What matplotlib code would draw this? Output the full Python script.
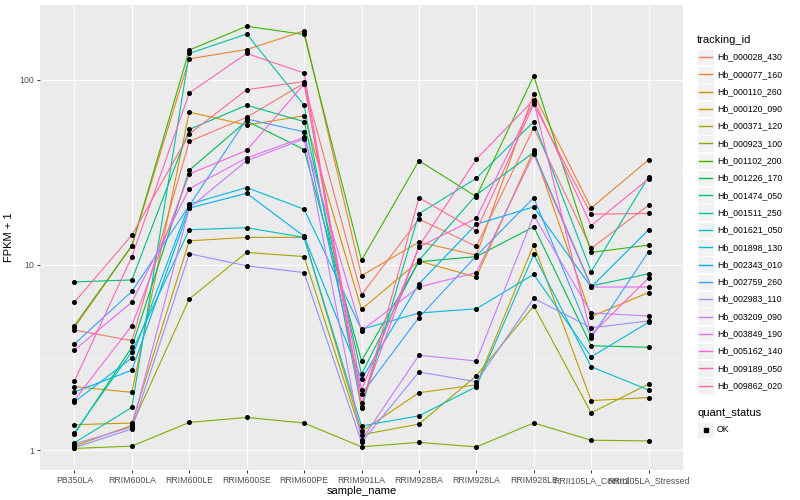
import matplotlib
matplotlib.use('Agg')
import numpy as np
import matplotlib.pyplot as plt
from matplotlib.patches import Rectangle
from matplotlib.lines import Line2D

plt.rcParams['font.family'] = ['Liberation Sans', 'DejaVu Sans']

samples = ['PB350LA', 'RRIM600LA', 'RRIM600LE', 'RRIM600SE', 'RRIM600PE',
           'RRIM901LA', 'RRIM928BA', 'RRIM928LA', 'RRIM928LE',
           'RRII105LA_Control', 'RRII105LA_Stressed']

tracking_ids = ['Hb_000028_430', 'Hb_000077_160', 'Hb_000110_260', 'Hb_000120_090',
                'Hb_000371_120', 'Hb_000923_100', 'Hb_001102_200', 'Hb_001226_170',
                'Hb_001474_050', 'Hb_001511_250', 'Hb_001621_050', 'Hb_001898_130',
                'Hb_002343_010', 'Hb_002759_260', 'Hb_002983_110', 'Hb_003209_090',
                'Hb_003849_190', 'Hb_005162_140', 'Hb_009189_050', 'Hb_009862_020']

# ggplot default hue palette, 20 levels
colors = ['#F8766D', '#EA8331', '#D89000', '#C09B00', '#A3A500', '#7CAE00', '#39B600',
          '#00BB4E', '#00BF7D', '#00C1A3', '#00BFC4', '#00BAE0', '#00B0F6', '#35A2FF',
          '#9590FF', '#C77CFF', '#E76BF3', '#FA62DB', '#FF62BC', '#FF6C91']

# FPKM + 1 per gene, one value per sample
hb_000028_430 = [4.45, 3.9, 46.5, 62.8, 96, 6.9, 17.7, 12.6, 55, 12.3, 21]
hb_000077_160 = [4.6, 12.7, 130, 146, 184, 8.75, 13.3, 11.3, 84, 20.3, 37]
hb_000110_260 = [2.2, 2.05, 67, 57, 64, 5.76, 10.5, 8.6, 41.6, 5.26, 7.1]
hb_000120_090 = [1.37, 1.40, 13.5, 14.1, 14.1, 1.26, 2.04, 2.25, 12.9, 1.85, 1.92]
hb_000371_120 = [1.05, 1.36, 6.55, 11.7, 11.1, 1.21, 1.38, 2.52, 6.0, 1.59, 2.27]
hb_000923_100 = [1.02, 1.05, 1.41, 1.5, 1.4, 1.04, 1.10, 1.04, 1.40, 1.13, 1.12]
hb_001102_200 = [4.7, 12.7, 145, 195, 176, 10.6, 36.6, 23.4, 105, 11.7, 12.8]
hb_001226_170 = [1.22, 3.6, 32.5, 60, 42, 3.03, 10.4, 11.1, 16.1, 3.66, 3.59]
hb_001474_050 = [8.1, 8.3, 54, 73, 59.5, 2.57, 10.6, 23.9, 40.6, 7.7, 8.96]
hb_001511_250 = [1.095, 1.70, 139, 177, 73, 1.68, 18.9, 29.4, 59.5, 9.2, 30]
hb_001621_050 = [1.24, 3.4, 15.5, 15.9, 14.1, 1.35, 1.53, 2.2, 11.4, 2.82, 2.11]
hb_001898_130 = [1.82, 3.15, 21.3, 26.2, 20, 4.49, 5.5, 5.8, 8.9, 3.19, 4.9]
hb_002343_010 = [2.06, 2.7, 20.3, 24.4, 14.3, 2.41, 7.9, 16.6, 20.6, 7.6, 15.5]
hb_002759_260 = [3.74, 7.2, 20.9, 61.5, 52.4, 2.0, 5.2, 11.2, 23.1, 4.05, 11.8]
hb_002983_110 = [1.03, 1.30, 11.5, 9.9, 9.1, 1.10, 2.64, 2.34, 6.6, 4.58, 4.98]
hb_003209_090 = [1.08, 1.33, 20.3, 36.6, 48, 1.13, 3.25, 3.03, 18.5, 5.5, 5.3]
hb_003849_190 = [3.47, 6.3, 25.8, 37.9, 49, 4.42, 7.6, 9.1, 39.6, 7.6, 7.6]
hb_005162_140 = [1.86, 4.7, 31, 41.6, 95, 2.11, 12.5, 17.9, 76.6, 4.2, 8.5]
hb_009189_050 = [2.36, 11.1, 85, 139, 109, 1.79, 12.6, 37.3, 78, 16.3, 29.2]
hb_009862_020 = [6.3, 14.5, 51, 88.6, 98, 1.71, 23.1, 15.3, 74, 18.8, 19]

series = [hb_000028_430, hb_000077_160, hb_000110_260, hb_000120_090, hb_000371_120,
          hb_000923_100, hb_001102_200, hb_001226_170, hb_001474_050, hb_001511_250,
          hb_001621_050, hb_001898_130, hb_002343_010, hb_002759_260, hb_002983_110,
          hb_003209_090, hb_003849_190, hb_005162_140, hb_009189_050, hb_009862_020]

W, H = 800, 500
fig = plt.figure(figsize=(8, 5), dpi=100)
ax = fig.add_axes([40 / W, 1 - 470 / H, (683 - 40) / W, (470 - 5) / H])
ax.set_facecolor('#EBEBEB')
for s in ax.spines.values():
    s.set_visible(False)

x = np.arange(len(samples))
for vals, c in zip(series, colors):
    ax.plot(x, vals, color=c, lw=0.8, zorder=2)
for vals in series:
    ax.plot(x, vals, ls='none', marker='o', ms=2.6, color='black', zorder=3)

ax.set_yscale('log')
ax.set_ylim(0.78, 254)
ax.set_xlim(-0.6, len(samples) - 0.4)
ax.set_yticks([1, 10, 100])
ax.set_yticklabels(['1', '10', '100'])
ax.set_yticks([10 ** 0.5, 10 ** 1.5], minor=True)
ax.yaxis.set_minor_formatter(plt.NullFormatter())
ax.set_xticks(x)
ax.set_xticklabels(samples)

ax.grid(True, which='major', color='white', lw=0.85, zorder=0)
ax.grid(True, which='minor', axis='y', color='#F5F5F5', lw=0.45, zorder=0)
ax.set_axisbelow(True)
ax.tick_params(which='major', length=2.2, width=0.7, color='#333333',
               labelsize=6.3, labelcolor='#4D4D4D', pad=2)
ax.tick_params(which='minor', length=0)

ax.set_xlabel('sample_name', fontsize=8, labelpad=1)
ax.set_ylabel('FPKM + 1', fontsize=8, labelpad=4)

# legend drawn in figure pixel coordinates, ggplot style
def fx(px):
    return px / W

def fy(py):
    return 1 - py / H

fig.text(fx(697), fy(40), 'tracking_id', fontsize=8, va='center', ha='left')
step = 17.3
for i, (name, c) in enumerate(zip(tracking_ids, colors)):
    yc = 57 + step * i
    fig.patches.append(Rectangle((fx(697), fy(yc + 8.3)), 17 / W, 16.6 / H,
                                 transform=fig.transFigure, facecolor='#F2F2F2',
                                 edgecolor='white', lw=0.5, zorder=1))
    fig.lines.append(Line2D([fx(699), fx(712)], [fy(yc), fy(yc)],
                            transform=fig.transFigure, color=c, lw=1.0, zorder=5))
    fig.text(fx(717), fy(yc), name, fontsize=6.3, va='center', ha='left')

fig.text(fx(697), fy(413), 'quant_status', fontsize=8, va='center', ha='left')
fig.patches.append(Rectangle((fx(697), fy(430 + 8.3)), 17 / W, 16.6 / H,
                             transform=fig.transFigure, facecolor='#F2F2F2',
                             edgecolor='white', lw=0.5, zorder=1))
fig.lines.append(Line2D([fx(705.5)], [fy(430)], transform=fig.transFigure,
                        ls='none', marker='s', ms=2.6, color='black', zorder=5))
fig.text(fx(717), fy(430), 'OK', fontsize=6.3, va='center', ha='left')

fig.savefig('out.png', dpi=100)
